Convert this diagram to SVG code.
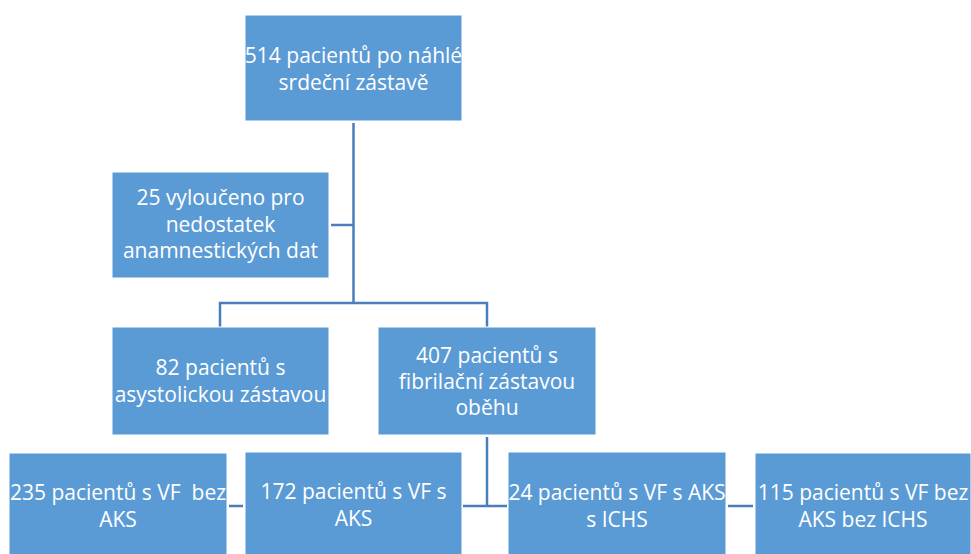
<svg xmlns="http://www.w3.org/2000/svg" width="971" height="554" viewBox="0 0 971 554">
<style>
.box{fill:#5b9bd5;stroke:#ffffff;stroke-width:1}
.t{font-family:"Open Sans","Liberation Sans",sans-serif;font-size:21px;fill:#ffffff;text-anchor:middle}
.c{stroke:#4a7ebb;stroke-width:2.5;fill:none}
</style>
<rect width="971" height="554" fill="#ffffff"/>
<g id="connectors">
<path class="c" d="M353.5 123 V303 M220 327 V303 H487 V327"/>
<path class="c" d="M331 225 H353.5"/>
<path class="c" d="M487 437 V506 M463 506 H507"/>
<path class="c" d="M229 506 H243"/>
<path class="c" d="M728 506 H753"/>
</g>
<g id="n514">
<rect class="box" x="245" y="15" width="217" height="106"/>
<text class="t" x="353.5" y="63">514 pacientů po náhlé</text>
<text class="t" x="353.5" y="90">srdeční zástavě</text>
</g>
<g id="n25">
<rect class="box" x="112" y="172" width="217" height="106"/>
<text class="t" x="220.5" y="205">25 vyloučeno pro</text>
<text class="t" x="220.5" y="232">nedostatek</text>
<text class="t" x="220.5" y="258">anamnestických dat</text>
</g>
<g id="n82">
<rect class="box" x="112" y="327" width="217" height="108"/>
<text class="t" x="220.5" y="375">82 pacientů s</text>
<text class="t" x="220.5" y="402">asystolickou zástavou</text>
</g>
<g id="n407">
<rect class="box" x="378" y="327" width="218" height="108"/>
<text class="t" x="487" y="363">407 pacientů s</text>
<text class="t" x="487" y="389">fibrilační zástavou</text>
<text class="t" x="487" y="415">oběhu</text>
</g>
<g id="n235">
<rect class="box" x="9" y="453" width="218" height="106"/>
<text class="t" x="118" y="500" xml:space="preserve">235 pacientů s VF  bez</text>
<text class="t" x="118" y="527">AKS</text>
</g>
<g id="n172">
<rect class="box" x="245" y="452" width="217" height="106"/>
<text class="t" x="353.5" y="499">172 pacientů s VF s</text>
<text class="t" x="353.5" y="526">AKS</text>
</g>
<g id="n24">
<rect class="box" x="508" y="452" width="218" height="106"/>
<text class="t" x="617" y="500">24 pacientů s VF s AKS</text>
<text class="t" x="617" y="527">s ICHS</text>
</g>
<g id="n115">
<rect class="box" x="755" y="453" width="216" height="106"/>
<text class="t" x="863" y="500">115 pacientů s VF bez</text>
<text class="t" x="863" y="527">AKS bez ICHS</text>
</g>
</svg>
